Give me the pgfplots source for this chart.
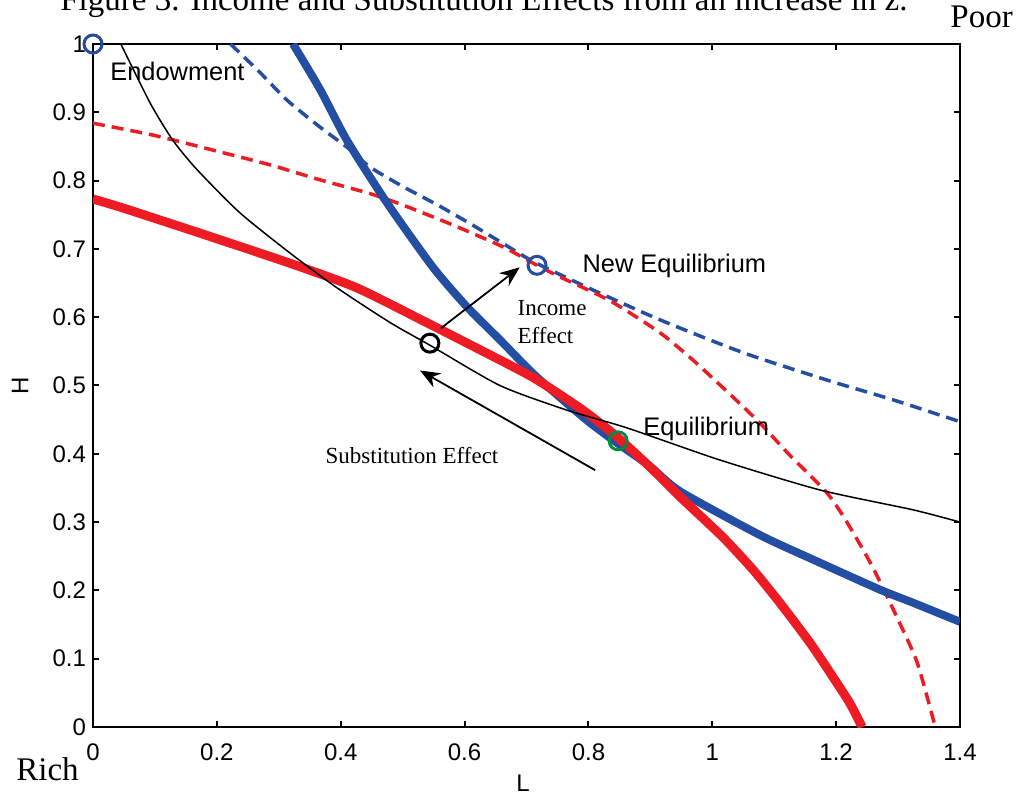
\documentclass[border=0pt]{standalone}
\usepackage{fontspec}
\setmainfont{Liberation Sans}
\newfontfamily\timesfont{Liberation Serif}
\usepackage{pgfplots}
\pgfplotsset{compat=1.18}
\usetikzlibrary{arrows.meta}

\definecolor{mblue}{RGB}{36,78,162}
\definecolor{mred}{RGB}{237,28,36}
\definecolor{mgreen}{RGB}{0,140,70}

\begin{document}
\begin{tikzpicture}
\begin{axis}[
  at={(0,0)}, anchor=south west,
  scale only axis, width=433.5pt, height=341.5pt,
  xmin=0, xmax=1.4, ymin=0, ymax=1,
  xtick={0,0.2,0.4,0.6,0.8,1,1.2,1.4},
  ytick={0,0.1,0.2,0.3,0.4,0.5,0.6,0.7,0.8,0.9,1},
  tick align=inside, major tick length=3pt,
  axis line style={line width=1pt},
  tick style={line width=1pt, black},
  tick label style={font=\fontsize{12}{14}\selectfont},
  /pgf/number format/assume math mode=true,
  xticklabel shift=5pt,
  clip mode=individual,
  xlabel={L}, ylabel={H},
  label style={font=\fontsize{12}{14}\selectfont},
  xlabel style={at={(axis description cs:0.496,-0.082)}, anchor=center},
  ylabel style={at={(axis description cs:-0.0842,0.5)}, anchor=center},
  dashstyle/.style={dash pattern=on 6pt off 3.5pt, line width=1.75pt},
]
% blue dashed
\addplot[mblue, dashstyle, smooth, tension=0.4] coordinates {
  (0.222,1.0)(0.270,0.958)(0.313,0.918)(0.367,0.878)(0.410,0.849)
  (0.447,0.820)(0.501,0.791)(0.555,0.765)(0.609,0.737)(0.662,0.708)
  (0.714,0.680)(0.807,0.640)(0.916,0.596)(1.050,0.548)(1.185,0.508)
  (1.292,0.479)(1.400,0.447)};
% red dashed
\addplot[mred, dashstyle, smooth, tension=0.4] coordinates {
  (0,0.884)(0.100,0.866)(0.205,0.842)(0.286,0.823)(0.367,0.801)
  (0.447,0.781)(0.501,0.764)(0.581,0.735)(0.662,0.703)(0.717,0.676)
  (0.754,0.659)(0.835,0.624)(0.916,0.577)(0.969,0.537)(1.024,0.491)
  (1.077,0.445)(1.125,0.398)(1.185,0.343)(1.218,0.299)(1.259,0.234)
  (1.298,0.161)(1.331,0.094)(1.360,0)};
% blue solid
\addplot[mblue, line width=4pt, smooth, tension=0.4] coordinates {
  (0.323,1.0)(0.367,0.933)(0.410,0.859)(0.475,0.767)(0.549,0.673)
  (0.604,0.615)(0.657,0.567)(0.710,0.518)(0.765,0.474)(0.803,0.445)
  (0.846,0.416)(0.899,0.382)(0.948,0.345)(1.077,0.281)(1.163,0.245)
  (1.271,0.201)(1.324,0.182)(1.400,0.154)};
% red solid
\addplot[mred, line width=4.5pt, smooth, tension=0.4] coordinates {
  (0,0.773)(0.048,0.760)(0.173,0.723)(0.318,0.679)(0.426,0.643)
  (0.539,0.592)(0.604,0.562)(0.710,0.512)(0.791,0.464)(0.846,0.425)
  (0.899,0.381)(0.948,0.337)(1.017,0.278)(1.066,0.230)(1.109,0.182)
  (1.158,0.123)(1.195,0.073)(1.222,0.035)(1.242,0)};
% black thin
\addplot[black, line width=0.75pt, smooth, tension=0.4] coordinates {
  (0.045,1.0)(0.092,0.914)(0.129,0.859)(0.168,0.816)(0.237,0.753)
  (0.318,0.694)(0.394,0.643)(0.480,0.592)(0.544,0.559)(0.657,0.500)
  (0.765,0.464)(0.862,0.438)(1.012,0.391)(1.174,0.347)(1.324,0.318)
  (1.400,0.300)};
% equilibrium points
\addplot[only marks, mark=o, mark size=4.5pt, mblue,
  mark options={line width=1.5pt}] coordinates {(0,1)(0.717,0.676)};
\addplot[only marks, mark=o, mark size=4.5pt, black,
  mark options={line width=1.5pt}] coordinates {(0.544,0.562)};
\addplot[only marks, mark=o, mark size=4.5pt, mgreen,
  mark options={line width=1.5pt}] coordinates {(0.848,0.419)};
% arrows
\draw[-{Stealth[length=10pt,width=8pt]}, line width=0.9pt]
  (axis cs:0.562,0.584) -- (axis cs:0.689,0.673);
\draw[-{Stealth[length=10pt,width=8pt]}, line width=0.9pt]
  (axis cs:0.811,0.376) -- (axis cs:0.528,0.522);
% labels
\node[anchor=base west, inner sep=0, font=\fontsize{12.7}{14}\selectfont]
  at (axis cs:0.0275,0.947) {Endowment};
\node[anchor=base west, inner sep=0, font=\fontsize{12.7}{14}\selectfont]
  at (axis cs:0.790,0.666) {New Equilibrium};
\node[anchor=base west, inner sep=0, font=\fontsize{12.7}{14}\selectfont]
  at (axis cs:0.888,0.4275) {Equilibrium};
\node[anchor=base west, inner sep=0, font=\timesfont\fontsize{11.5}{13}\selectfont]
  at (axis cs:0.685,0.602) {Income};
\node[anchor=base west, inner sep=0, font=\timesfont\fontsize{11.5}{13}\selectfont]
  at (axis cs:0.685,0.562) {Effect};
\node[anchor=base west, inner sep=0, font=\timesfont\fontsize{11.5}{13}\selectfont]
  at (axis cs:0.375,0.3865) {Substitution Effect};
\end{axis}
\node[anchor=base west, inner sep=0, font=\timesfont\fontsize{16.5}{18}\selectfont]
  at (-16.5pt,358pt) {Figure 3. Income and Substitution Effects from an increase in z.};
\node[anchor=base west, inner sep=0, font=\timesfont\fontsize{16.5}{18}\selectfont]
  at (428.5pt,349.5pt) {Poor};
\node[anchor=base west, inner sep=0, font=\timesfont\fontsize{16.5}{18}\selectfont]
  at (-38.5pt,-26.5pt) {Rich};
\pgfresetboundingbox
\path (-46.5pt,-35.5pt) rectangle (464.5pt,363.5pt);
\end{tikzpicture}
\end{document}
